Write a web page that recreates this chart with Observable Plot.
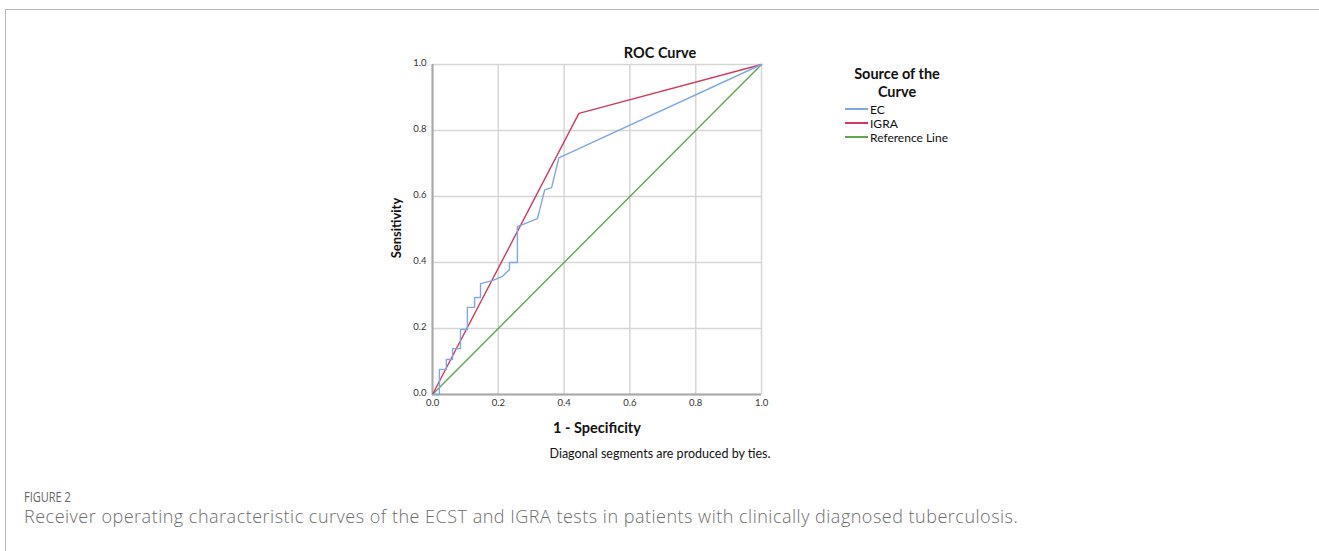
<!DOCTYPE html>
<html>
<head>
<meta charset="utf-8">
<script src="https://cdn.jsdelivr.net/npm/d3@7"></script>
<script src="https://cdn.jsdelivr.net/npm/@observablehq/plot@0.6"></script>
<style>
  html, body { margin: 0; padding: 0; background: #fff; }
  #wrap { position: relative; width: 1319px; height: 551px; overflow: hidden; font-family: Lato, "Open Sans", sans-serif; }
  #border { position: absolute; left: 5px; top: 9px; right: 0; bottom: -2px; border-top: 1px solid #b8b8b8; border-left: 1px solid #b8b8b8; }
  #chart { position: absolute; left: 0; top: 0; }
  .t { position: absolute; white-space: nowrap; color: #111; }
  .row { display: flex; align-items: center; height: 14px; }
  .legline { display: block; width: 23px; height: 1.5px; margin-right: 2px; }
</style>
</head>
<body>
<div id="wrap">
  <div id="border"></div>
  <div id="chart"></div>
  <div class="t" id="title" style="left:660px; top:44px; transform:translateX(-50%); font-weight:700; font-size:14.5px;">ROC Curve</div>
  <div class="t" id="ylab" style="left:396px; top:228px; transform:translate(-50%,-50%) rotate(-90deg); font-weight:700; font-size:13px;">Sensitivity</div>
  <div class="t" id="xlab" style="left:597px; top:419px; transform:translateX(-50%); font-weight:700; font-size:14.5px;">1 - Specificity</div>
  <div class="t" id="note" style="left:660px; top:446px; transform:translateX(-50%); font-size:12.5px;">Diagonal segments are produced by ties.</div>
  <div class="t" style="left:897px; top:67px; transform:translateX(-50%); font-weight:700; font-size:14.5px; line-height:14px;">Source of the</div>
  <div class="t" style="left:897px; top:85px; transform:translateX(-50%); font-weight:700; font-size:14.5px; line-height:14px;">Curve</div>
  <div id="legend" style="position:absolute; left:845px; top:102px; font-size:12px; color:#111;"></div>
  <div class="t" id="fig" style="left:24px; top:487px; font-family:'Open Sans', sans-serif; font-size:14.5px; color:#666; transform:scaleX(0.76); transform-origin:left top;">FIGURE 2</div>
  <div class="t" id="cap" style="left:24px; top:504px; font-family:'Open Sans', sans-serif; font-size:18px; font-weight:300; letter-spacing:0.5px; color:#6e6e6e;">Receiver operating characteristic curves of the ECST and IGRA tests in patients with clinically diagnosed tuberculosis.</div>
</div>
<script>
// ---- data ----
const seriesNames = ["EC", "IGRA", "Reference Line"];
const seriesColors = ["#7fa8e4", "#d4395f", "#62a653"];
const ticks = [0, 0.2, 0.4, 0.6, 0.8, 1.0];

const ecX = [0, 0.021, 0.021, 0.042, 0.042, 0.061, 0.061, 0.085, 0.085, 0.106, 0.106, 0.128, 0.128, 0.146, 0.146, 0.182, 0.213, 0.234, 0.234, 0.258, 0.258, 0.319, 0.341, 0.362, 0.384, 1.0];
const ecY = [0, 0, 0.076, 0.076, 0.106, 0.106, 0.139, 0.139, 0.197, 0.197, 0.264, 0.264, 0.294, 0.294, 0.336, 0.345, 0.358, 0.379, 0.400, 0.400, 0.509, 0.533, 0.620, 0.627, 0.717, 1.0];
const igraX = [0, 0.445, 1.0];
const igraY = [0, 0.852, 1.0];
const refX = [0, 1.0];
const refY = [0, 1.0];

const toRows = (xs, ys, s) => xs.map((x, i) => ({x, y: ys[i], s}));
const ec = toRows(ecX, ecY, seriesNames[0]);
const igra = toRows(igraX, igraY, seriesNames[1]);
const ref = toRows(refX, refY, seriesNames[2]);

const W = 1319, H = 551;
const chart = Plot.plot({
  width: W, height: H,
  marginLeft: 432, marginRight: W - 761, marginTop: 64, marginBottom: H - 394,
  x: {domain: [0, 1]},
  y: {domain: [0, 1]},
  style: {fontFamily: "Lato, 'Open Sans', sans-serif", fontSize: "9.5px", color: "#333", background: "transparent"},
  marks: [
    Plot.gridX(ticks, {stroke: "#d6d6d6", strokeOpacity: 1, strokeWidth: 1.5}),
    Plot.gridY(ticks, {stroke: "#d6d6d6", strokeOpacity: 1, strokeWidth: 1.5}),
    Plot.ruleX([0], {stroke: "#a8a8a8", strokeWidth: 2}),
    Plot.ruleY([0], {stroke: "#a8a8a8", strokeWidth: 2}),
    Plot.axisX(ticks, {tickSize: 0, tickPadding: 5, tickFormat: d3.format(".1f"), label: null}),
    Plot.axisY(ticks, {tickSize: 0, tickPadding: 6, tickFormat: d3.format(".1f"), label: null, dy: -2}),
    Plot.line(ref, {x: "x", y: "y", stroke: seriesColors[2], strokeWidth: 1.4}),
    Plot.line(igra, {x: "x", y: "y", stroke: seriesColors[1], strokeWidth: 1.4}),
    Plot.line(ec, {x: "x", y: "y", stroke: seriesColors[0], strokeWidth: 1.4})
  ]
});
document.getElementById("chart").appendChild(chart);

const leg = document.getElementById("legend");
seriesNames.forEach((n, i) => {
  const row = document.createElement("div");
  row.className = "row";
  const ln = document.createElement("span");
  ln.className = "legline";
  ln.style.background = seriesColors[i];
  row.appendChild(ln);
  row.appendChild(document.createTextNode(n));
  leg.appendChild(row);
});
</script>
</body>
</html>
